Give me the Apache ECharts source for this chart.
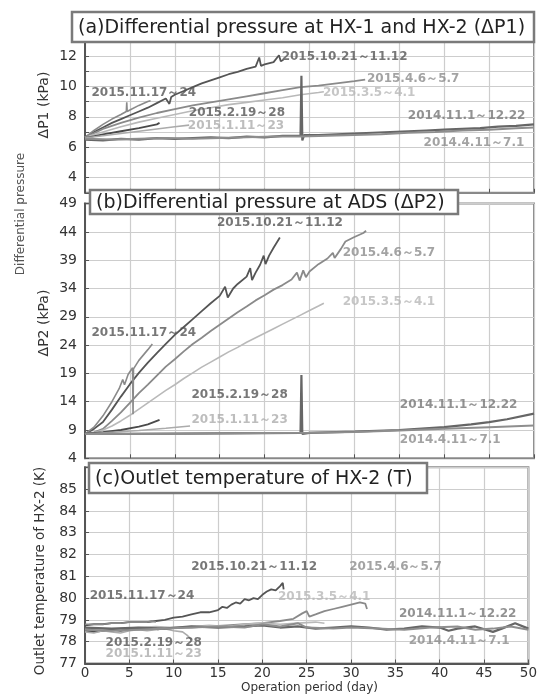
<!DOCTYPE html>
<html>
<head>
<meta charset="utf-8">
<script src="https://cdn.jsdelivr.net/npm/echarts@6/dist/echarts.min.js"></script>
<style>
  html, body { margin: 0; padding: 0; background: #fff; }
  #chart { width: 540px; height: 695px; }
</style>
</head>
<body>
<div id="chart"></div>
<script>
// ---- run names ----
const runNames = ['2015.10.21～11.12', '2015.4.6～5.7', '2015.3.5～4.1', '2015.11.17～24',
                  '2015.2.19～28', '2015.1.11～23', '2014.11.1～12.22', '2014.4.11～7.1'];

// ---- axis ticks ----
const dayTicks = [0, 5, 10, 15, 20, 25, 30, 35, 40, 45, 50];
const dp1Ticks = [4, 6, 8, 10, 12];
const dp2Ticks = [4, 9, 14, 19, 24, 29, 34, 39, 44, 49];
const tempTicks = [77, 78, 79, 80, 81, 82, 83, 84, 85];

// ---- (a) ΔP1 [day, kPa] ----
const dp1_1021 = [[0,6.65],[1,7.0],[2,7.3],[3,7.6],[4,7.85],[5,8.1],[6,8.35],[7,8.6],[8,8.9],[9,9.2],[9.4,8.85],[9.6,9.3],[10,9.45],[11,9.7],[12,9.95],[13,10.2],[14,10.4],[15,10.6],[16,10.8],[17,10.95],[18,11.15],[19,11.3],[19.4,11.9],[19.6,11.35],[20,11.45],[21,11.6],[21.6,12.05],[21.8,11.65],[22.1,11.75]];
const dp1_0406 = [[0,6.65],[2,7.2],[4,7.6],[6,7.95],[8,8.25],[10,8.5],[12,8.75],[14,8.95],[16,9.15],[18,9.35],[20,9.55],[22,9.75],[24,9.95],[26,10.05],[28,10.2],[30,10.35],[31.2,10.45]];
const dp1_0305 = [[0,6.65],[2,7.0],[4,7.35],[6,7.65],[8,7.9],[10,8.15],[12,8.4],[14,8.6],[16,8.8],[18,8.95],[20,9.1],[22,9.25],[24,9.45],[26,9.6],[26.6,9.65]];
const dp1_1117 = [[0,6.65],[1,7.1],[2,7.5],[3,7.85],[4,8.15],[4.6,8.35],[4.65,8.95],[4.7,8.35],[5,8.45],[6,8.75],[7,9.0],[7.3,9.05]];
const dp1_0219 = [[0,6.6],[2,6.85],[4,7.05],[6,7.25],[8,7.5],[8.3,7.6]];
const dp1_0111 = [[0,6.6],[2,6.75],[4,6.9],[6,7.05],[8,7.2],[10,7.35],[11.6,7.45]];
const dp1_1411 = [[0,6.5],[2,6.45],[4,6.55],[6,6.5],[8,6.6],[10,6.55],[12,6.6],[14,6.65],[16,6.6],[18,6.7],[20,6.65],[22,6.75],[24,6.75],[24.1,10.7],[24.2,6.45],[24.4,6.8],[26,6.8],[28,6.85],[30,6.9],[32,6.95],[34,7.0],[36,7.05],[38,7.1],[40,7.15],[42,7.2],[44,7.25],[46,7.35],[48,7.4],[50,7.5]];
const dp1_1404 = [[0,6.55],[3,6.5],[6,6.55],[9,6.6],[12,6.55],[15,6.6],[18,6.65],[21,6.7],[24,6.7],[27,6.75],[30,6.8],[33,6.85],[36,6.95],[39,7.0],[42,7.1],[45,7.15],[48,7.25],[50,7.3]];

// ---- (b) ΔP2 [day, kPa] ----
const dp2_1021 = [[0,8.3],[1,9.2],[2,10.4],[3,12.6],[4,14.9],[5,17.1],[6,19.1],[7,20.9],[8,22.6],[9,24.2],[10,25.8],[11,27.2],[12,28.6],[13,30.0],[14,31.4],[15,32.7],[15.6,34.3],[15.9,32.4],[16.5,34.0],[17,34.8],[18,36.1],[18.4,37.6],[18.6,35.5],[19,36.8],[19.5,38.2],[19.9,39.8],[20.1,38.3],[20.5,39.8],[21,41.2],[21.7,43.0]];
const dp2_0406 = [[0,8.3],[1,8.6],[2,9.2],[3,10.6],[4,12.1],[5,13.8],[6,15.5],[7,17.0],[8,18.6],[9,20.2],[10,21.5],[11,22.9],[12,24.2],[13,25.3],[14,26.5],[15,27.6],[16,28.7],[17,29.8],[18,30.8],[19,31.9],[20,32.8],[21,33.8],[22,34.6],[23,35.6],[23.6,36.8],[23.9,35.4],[24.3,37.2],[24.6,36.0],[25,37.0],[26,38.3],[27,39.3],[27.6,40.3],[27.8,39.4],[28.5,41.0],[29,42.3],[30,43.1],[31,43.8],[31.3,44.2]];
const dp2_0305 = [[0,8.3],[1,8.5],[2,9.0],[3,9.7],[4,10.6],[5,11.6],[6,12.7],[7,13.8],[8,14.9],[9,16.0],[10,17.0],[11,18.1],[12,19.1],[13,20.1],[14,21.0],[15,21.9],[16,22.8],[17,23.6],[18,24.5],[19,25.3],[20,26.1],[21,26.9],[22,27.7],[23,28.5],[24,29.3],[25,30.1],[26,30.9],[26.6,31.4]];
const dp2_1117 = [[0,8.3],[1,9.5],[2,11.5],[3,14.0],[3.8,16.3],[4.2,17.9],[4.4,17.0],[4.8,18.8],[5.3,20.0],[5.35,11.8],[5.4,19.8],[6,21.3],[7,23.2],[7.5,24.2]];
const dp2_0219 = [[0,8.3],[2,8.6],[4,9.0],[6,9.6],[7,10.0],[8.3,10.8]];
const dp2_0111 = [[0,8.3],[3,8.6],[6,8.9],[9,9.3],[11.7,9.7]];
const dp2_1411 = [[0,8.3],[5,8.3],[10,8.35],[15,8.4],[20,8.45],[24,8.5],[24.1,18.7],[24.2,8.3],[25,8.5],[30,8.7],[35,9.0],[40,9.5],[43,10.0],[45,10.4],[47,10.9],[50,11.9]];
const dp2_1404 = [[0,8.3],[10,8.35],[20,8.45],[25,8.5],[30,8.65],[35,8.9],[40,9.2],[45,9.5],[50,9.8]];

// ---- (c) outlet temperature [day, K] ----
const t_1021 = [[0,78.75],[1,78.8],[2,78.8],[3,78.85],[4,78.85],[5,78.9],[6,78.9],[7,78.9],[8,78.95],[9,79.0],[10,79.1],[11,79.15],[12,79.25],[13,79.35],[14,79.35],[15,79.45],[15.5,79.6],[16,79.55],[16.5,79.7],[17,79.8],[17.5,79.75],[18,79.95],[18.5,79.9],[19,80.0],[19.5,79.95],[20,80.15],[20.5,80.3],[21,80.4],[21.5,80.35],[22,80.55],[22.3,80.7],[22.4,80.4]];
const t_0406 = [[0,78.55],[2,78.5],[4,78.55],[6,78.6],[8,78.6],[10,78.65],[12,78.65],[14,78.7],[16,78.75],[18,78.8],[20,78.85],[22,78.95],[23.5,79.05],[24.5,79.3],[25,79.4],[25.3,79.15],[26,79.25],[27,79.4],[28,79.5],[29,79.6],[30,79.7],[31,79.8],[31.6,79.75],[31.8,79.5]];
const t_0305 = [[0,78.6],[2,78.55],[4,78.6],[6,78.65],[8,78.7],[10,78.65],[12,78.7],[14,78.75],[16,78.7],[18,78.8],[20,78.85],[22,78.8],[24,78.85],[26,78.9],[27,78.85]];
const t_1117 = [[0,78.8],[1,78.8],[2,78.8],[3,78.85],[4,78.85],[5,78.9],[6,78.9],[7,78.9],[7.5,78.95],[8,78.9]];
const t_0219 = [[0,78.5],[1,78.45],[2,78.5],[3,78.55],[4,78.5],[5,78.55],[6,78.6],[7,78.55],[8,78.6],[8.3,78.55]];
const t_0111 = [[0,78.45],[1,78.4],[2,78.5],[3,78.45],[4,78.4],[5,78.5],[6,78.55],[7,78.5],[8,78.55],[9,78.6],[10,78.5],[11,78.45],[11.5,78.3],[12,78.1]];
const t_1411 = [[0,78.65],[3,78.6],[6,78.65],[9,78.6],[12,78.7],[15,78.65],[18,78.7],[20,78.75],[22,78.65],[24,78.7],[26,78.6],[28,78.65],[30,78.7],[32,78.65],[34,78.55],[36,78.6],[38,78.7],[40,78.65],[41,78.5],[42,78.6],[44,78.7],[46,78.45],[47,78.6],[48.5,78.85],[50,78.6]];
const t_1404 = [[0,78.55],[3,78.5],[6,78.55],[9,78.6],[12,78.65],[15,78.7],[18,78.65],[20,78.8],[22,78.7],[24,78.85],[25,78.65],[28,78.6],[30,78.65],[33,78.6],[36,78.55],[39,78.65],[42,78.7],[44,78.55],[46,78.6],[48,78.7],[50,78.55]];

// ---- styling per run (line colour, label colour, line width) ----
const runStyle = [
  { line: '#555555', text: '#555555', w: 1.8 },
  { line: '#8a8a8a', text: '#8c8c8c', w: 1.8 },
  { line: '#b9b9b9', text: '#b8b8b8', w: 1.6 },
  { line: '#8a8a8a', text: '#555555', w: 1.6 },
  { line: '#4a4a4a', text: '#555555', w: 1.8 },
  { line: '#ababab', text: '#adadad', w: 1.6 },
  { line: '#666666', text: '#777777', w: 2.2 },
  { line: '#8e8e8e', text: '#8c8c8c', w: 2.0 }
];

const panelData = [
  [dp1_1021, dp1_0406, dp1_0305, dp1_1117, dp1_0219, dp1_0111, dp1_1411, dp1_1404],
  [dp2_1021, dp2_0406, dp2_0305, dp2_1117, dp2_0219, dp2_0111, dp2_1411, dp2_1404],
  [t_1021, t_0406, t_0305, t_1117, t_0219, t_0111, t_1411, t_1404]
];

// run-label anchors (left edge, vertical middle) in data units, per panel
const labelAnchors = [
  [[21.9,11.93],[31.4,10.49],[26.5,9.59],[0.72,9.59],[11.56,8.27],[11.45,7.39],[35.95,8.05],[37.7,6.30]],
  [[14.7,45.57],[28.7,40.33],[28.7,31.67],[0.72,26.14],[11.86,15.18],[11.86,10.77],[35.06,13.42],[35.06,7.23]],
  [[11.98,81.41],[29.8,81.43],[21.76,80.06],[0.53,80.10],[2.32,77.95],[2.32,77.44],[35.4,79.26],[36.5,78.03]]
];

const FONT = '"DejaVu Sans", Verdana, sans-serif';

// plot areas
const grids = [
  { left: 85, right: 6, top: 40.8, height: 152 },
  { left: 85, right: 6, top: 203.6, height: 254.7 },
  { left: 85, right: 6, top: 467.3, height: 196.2 }
];
const yRanges = [
  { min: 3, max: 13, interval: 1, ticks: dp1Ticks },
  { min: 4, max: 49, interval: 5, ticks: dp2Ticks },
  { min: 77, max: 86, interval: 1, ticks: tempTicks }
];

const xAxes = grids.map((g, i) => ({
  type: 'value', gridIndex: i, min: 0, max: 50, interval: 5,
  axisLine: { show: true, lineStyle: { color: i === 2 ? '#555' : '#888', width: i === 2 ? 2 : 1 } },
  axisTick: { show: true, inside: true, length: 4, lineStyle: { color: '#555' } },
  axisLabel: {
    show: i === 2, margin: 3, fontFamily: FONT, fontSize: 13.5, color: '#333',
    formatter: v => dayTicks.includes(v) ? String(v) : ''
  },
  splitLine: { show: true, lineStyle: { color: '#cdcdcd', width: 1.2 } }
}));

const yAxes = yRanges.map((r, i) => ({
  type: 'value', gridIndex: i, min: r.min, max: r.max, interval: r.interval,
  axisLine: { show: true, lineStyle: { color: '#555', width: 2 } },
  axisTick: { show: true, inside: true, length: 4, lineStyle: { color: '#555' },
              interval: 0 },
  axisLabel: {
    margin: 8, fontFamily: FONT, fontSize: 14, color: '#333',
    formatter: v => r.ticks.includes(v) ? String(v) : ''
  },
  splitLine: { show: true, lineStyle: { color: '#cdcdcd', width: 1.2 } }
}));

const series = [];
panelData.forEach((runs, p) => {
  runs.forEach((data, k) => {
    series.push({
      type: 'line', name: runNames[k] + ' #' + p, data,
      xAxisIndex: p, yAxisIndex: p, symbol: 'none', showSymbol: false,
      lineStyle: { color: runStyle[k].line, width: runStyle[k].w },
      z: 3, silent: true
    });
  });
  series.push({
    type: 'scatter', xAxisIndex: p, yAxisIndex: p, symbolSize: 0, silent: true, z: 6,
    data: labelAnchors[p].map((a, k) => ({
      name: runNames[k], value: a,
      label: { color: runStyle[k].text }
    })),
    label: {
      show: true, position: 'right', distance: 0, formatter: d => d.name,
      fontFamily: FONT, fontWeight: 'bold', fontSize: 12
    }
  });
});

function panelTitle(x, y, w, h, text) {
  return {
    type: 'group', z: 50,
    children: [
      { type: 'rect', z: 50, shape: { x, y, width: w, height: h },
        style: { fill: '#fff', stroke: '#7a7a7a', lineWidth: 2.5 } },
      { type: 'text', z: 51, x: x + 6, y: y + h / 2 + 1,
        style: { text, fontFamily: FONT, fontSize: 19, fill: '#222',
                 align: 'left', verticalAlign: 'middle' } }
    ]
  };
}

function vText(x, y, text, size, color) {
  return { type: 'text', z: 40, x, y, rotation: Math.PI / 2,
           style: { text, fontFamily: FONT, fontSize: size, fill: color,
                    align: 'center', verticalAlign: 'middle' } };
}

const chart = echarts.init(document.getElementById('chart'), null, { renderer: 'canvas' });
chart.setOption({
  animation: false,
  backgroundColor: '#fff',
  grid: grids.map(g => Object.assign({ show: true, borderColor: '#8a8a8a', borderWidth: 2,
                                        backgroundColor: '#fff' }, g)),
  xAxis: xAxes,
  yAxis: yAxes,
  series,
  graphic: [
    panelTitle(72, 12, 462, 30, '(a)Differential pressure at HX-1 and HX-2 (ΔP1)'),
    panelTitle(90, 190, 368, 24, '(b)Differential pressure at ADS (ΔP2)'),
    panelTitle(89, 463, 338, 30, '(c)Outlet temperature of HX-2 (T)'),
    vText(21, 214, 'Differential pressure', 12, '#555'),
    vText(44, 105, 'ΔP1 (kPa)', 14, '#333'),
    vText(44, 323, 'ΔP2 (kPa)', 14, '#333'),
    vText(40, 571, 'Outlet temperature of HX-2 (K)', 13.5, '#333'),
    { type: 'text', z: 40, x: 309.5, y: 688,
      style: { text: 'Operation period (day)', fontFamily: FONT, fontSize: 12, fill: '#333',
               align: 'center', verticalAlign: 'middle' } }
  ]
});
</script>
</body>
</html>
